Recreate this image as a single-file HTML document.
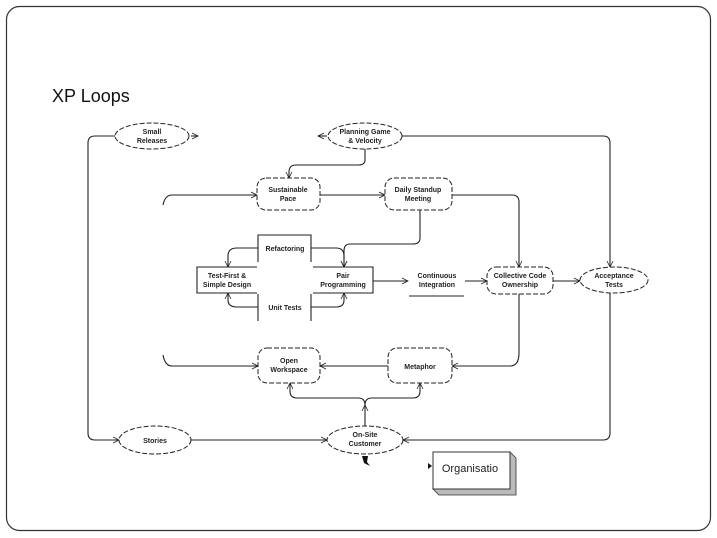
<!DOCTYPE html>
<html><head><style>
body{margin:0;background:#fff;width:717px;height:538px;overflow:hidden}
svg{display:block}
text{font-family:"Liberation Sans",sans-serif;font-size:7px;font-weight:bold;fill:#222;text-anchor:middle}
</style></head><body>
<svg width="717" height="538" viewBox="0 0 717 538">
<defs>
<marker id="a" markerWidth="8" markerHeight="8" refX="7" refY="4" orient="auto" markerUnits="userSpaceOnUse">
<path d="M1,1 L7,4 L1,7" fill="none" stroke="#222" stroke-width="0.8"/></marker>
</defs>
<rect x="6.5" y="6.5" width="704" height="524" rx="13" fill="#fff" stroke="#333" stroke-width="1.2"/>
<text x="52" y="102" style="font-size:18px;font-weight:normal;text-anchor:start;fill:#111">XP Loops</text>
<g fill="none" stroke="#222" stroke-width="1.1" marker-end="url(#a)">
<path d="M115,136 L95,136 Q88,136 88,143 L88,433 Q88,440 95,440 L119,440"/>
<path d="M191,440 L327,440"/>
<path d="M191,136 L198,136"/>
<path d="M402,136 L603,136 Q610,136 610,143 L610,267"/>
<path d="M610,293 L610,433 Q610,440 603,440 L403,440"/>
<path d="M327,136 L318,136"/>
<path d="M365,149 L365,160 Q365,165 358,165 L296,165 Q289,165 289,172 L289,178"/>
<path d="M163,205 Q165,195 172,195 L257,195"/>
<path d="M320,195 L385,195"/>
<path d="M452,195 L512,195 Q519,195 519,202 L519,267"/>
<path d="M420,210 L420,238 Q420,244 413,244 L350,244 Q344,244 344,251 L344,267"/>
<path d="M258,248 L237,248 Q228,248 228,256 L228,267"/>
<path d="M311,248 L336,248 Q344,248 344,256 L344,267"/>
<path d="M258,307 L237,307 Q228,307 228,300 L228,293"/>
<path d="M311,307 L336,307 Q344,307 344,300 L344,293"/>
<path d="M373,281 L408,281"/>
<path d="M465,281 L487,281"/>
<path d="M553,281 L580,281"/>
<path d="M519,293 L519,353 Q519,366 510,366 L452,366"/>
<path d="M388,366 L320,366"/>
<path d="M163,355 Q165,366 172,366 L258,366"/>
<path d="M365,426 L365,405"/>
<path d="M365,405 Q365,398 358,398 L297,398 Q290,398 290,391 L290,383"/>
<path d="M365,405 Q365,398 372,398 L413,398 Q420,398 420,391 L420,383"/>
</g>
<g fill="#fff" stroke="#222" stroke-width="1" stroke-dasharray="5,2">
<ellipse cx="152" cy="136" rx="37" ry="13"/>
<ellipse cx="365" cy="136" rx="37" ry="13"/>
<rect x="257" y="178" width="63" height="32" rx="9"/>
<rect x="385" y="178" width="67" height="32" rx="9"/>
<rect x="487" y="267" width="66" height="27" rx="9"/>
<ellipse cx="614" cy="280" rx="34" ry="13"/>
<rect x="258" y="348" width="62" height="35" rx="9"/>
<rect x="388" y="348" width="64" height="35" rx="9"/>
<ellipse cx="155" cy="440" rx="36" ry="14"/>
<ellipse cx="365" cy="440" rx="38" ry="14"/>
</g>
<g fill="none" stroke="#222" stroke-width="1.1">
<path d="M258,262 L258,235 L311,235 L311,262"/>
<path d="M257,267 L197,267 L197,293 L257,293"/>
<path d="M313,267 L373,267 L373,293 L313,293"/>
<path d="M258,294 L258,321 M311,294 L311,321"/>
<path d="M409,296 L464,296"/>
</g>
<text x="152" y="134">Small</text><text x="152" y="143">Releases</text>
<text x="365" y="134">Planning Game</text><text x="365" y="143">&amp; Velocity</text>
<text x="288" y="192">Sustainable</text><text x="288" y="201">Pace</text>
<text x="418" y="192">Daily Standup</text><text x="418" y="201">Meeting</text>
<text x="285" y="251">Refactoring</text>
<text x="227" y="278">Test-First &amp;</text><text x="227" y="287">Simple Design</text>
<text x="343" y="278">Pair</text><text x="343" y="287">Programming</text>
<text x="285" y="310">Unit Tests</text>
<text x="437" y="278">Continuous</text><text x="437" y="287">Integration</text>
<text x="520" y="278">Collective Code</text><text x="520" y="287">Ownership</text>
<text x="614" y="278">Acceptance</text><text x="614" y="287">Tests</text>
<text x="289" y="363">Open</text><text x="289" y="372">Workspace</text>
<text x="420" y="369">Metaphor</text>
<text x="155" y="443">Stories</text>
<text x="365" y="437">On-Site</text><text x="365" y="446">Customer</text>
<path d="M362,456 L368,456 L367,462 L370,466 L364,463 Z" fill="#111"/>
<polygon points="510,452 516,458 516,495 439,495 433,489 510,489" fill="#bbb" stroke="#333" stroke-width="0.8"/>
<rect x="433" y="452" width="77" height="37" fill="#fff" stroke="#333" stroke-width="1"/>
<polygon points="428,463 432,466 428,469" fill="#111"/>
<text x="470" y="472" style="font-size:11px;font-weight:normal">Organisatio</text>
</svg>
</body></html>
